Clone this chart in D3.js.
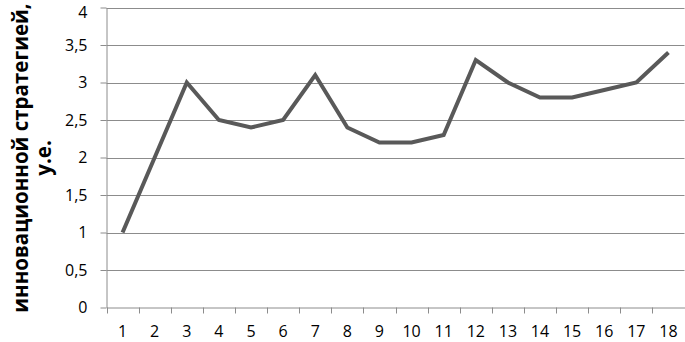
<!DOCTYPE html>
<html><head><meta charset="utf-8">
<script src="https://cdn.jsdelivr.net/npm/d3@7/dist/d3.min.js"></script>
<style>body{margin:0;background:#fff}svg{display:block}</style>
</head><body>
<script>
const categories = ["1","2","3","4","5","6","7","8","9","10","11","12","13","14","15","16","17","18"];
const values = [1, 2, 3, 2.5, 2.4, 2.5, 3.1, 2.4, 2.2, 2.2, 2.3, 3.3, 3.0, 2.8, 2.8, 2.9, 3.0, 3.4];
const yTicks = [0, 0.5, 1, 1.5, 2, 2.5, 3, 3.5, 4];
const titleLines = ["инновационной стратегией,", "у.е."];

const W = 685, H = 342;
const svg = d3.select("body").append("svg").attr("width", W).attr("height", H);
const pL = 106.5, pR = 684.5, pT = 7.5, pB = 307.5;
const x = d3.scaleBand().domain(categories).range([pL, pR]);
const y = d3.scaleLinear().domain([0, 4]).range([pB, pT]);
const font = "'Open Sans', 'Liberation Sans', sans-serif";

// gridlines
svg.append("g").selectAll("line").data(yTicks.filter(d => d > 0)).join("line")
  .attr("x1", pL).attr("x2", pR).attr("y1", d => Math.round(y(d)) + 0.5).attr("y2", d => Math.round(y(d)) + 0.5)
  .attr("stroke", "#8c8c8c").attr("stroke-width", 1);

const fmt = d => String(d).replace(".", ",");
const yAxis = svg.append("g").attr("transform", `translate(${pL},0)`)
  .call(d3.axisLeft(y).tickValues(yTicks).tickSize(6).tickSizeOuter(0).tickPadding(13).tickFormat(fmt));
const xAxis = svg.append("g").attr("transform", `translate(0,${pB})`)
  .call(d3.axisBottom(x).tickSize(0).tickSizeOuter(0).tickPadding(18));
// category boundary ticks
svg.append("g").selectAll("line").data(categories.map(c => x(c)).concat([pR])).join("line")
  .attr("x1", d => Math.round(d) + 0.5).attr("x2", d => Math.round(d) + 0.5)
  .attr("y1", pB).attr("y2", pB + 6).attr("stroke", "#8c8c8c");

[yAxis, xAxis].forEach(g => {
  g.selectAll(".domain").attr("stroke", "#8c8c8c");
  g.selectAll(".tick line").attr("stroke", "#8c8c8c");
  g.selectAll("text").attr("font-family", font).attr("font-size", 16).attr("fill", "#000");
});
yAxis.selectAll("text").filter(d => d === 4).attr("dy", "0.62em");

const line = d3.line().x((d, i) => x(categories[i]) + x.bandwidth() / 2).y(d => y(d));
svg.append("path").datum(values).attr("d", line)
  .attr("fill", "none").attr("stroke", "#595959").attr("stroke-width", 4).attr("stroke-linejoin", "miter");

// axis title
const t = svg.append("text").attr("transform", "translate(21,158) rotate(-90)")
  .attr("font-family", font).attr("font-weight", "bold").attr("font-size", 20.5).attr("fill", "#000")
  .attr("text-anchor", "middle");
titleLines.forEach((s, i) => t.append("tspan").attr("x", 0).attr("dy", i === 0 ? "0.35em" : 23).text(s));
</script>
</body></html>
